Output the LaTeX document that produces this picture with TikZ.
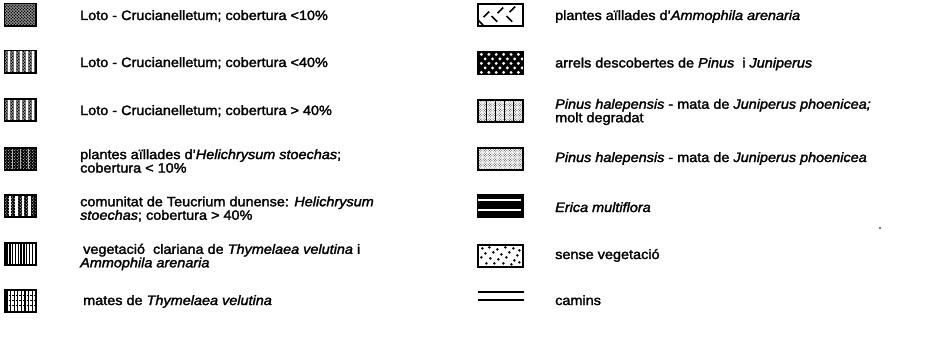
\documentclass[tikz,border=0pt]{standalone}
\usepackage{fontspec}
\setmainfont{Liberation Sans}[FakeStretch=1.07, FakeBold=2]
\usetikzlibrary{patterns}
\pgfdeclarepatternformonly{stip}{\pgfqpoint{-.1pt}{-.1pt}}{\pgfqpoint{3.1pt}{3.1pt}}{\pgfqpoint{3pt}{3pt}}{%
  \pgfpathcircle{\pgfqpoint{0.75pt}{0.75pt}}{0.95pt}%
  \pgfpathcircle{\pgfqpoint{2.25pt}{2.25pt}}{0.95pt}%
  \pgfusepath{fill}}
\pgfdeclarepatternformonly{stipsm}{\pgfqpoint{-.1pt}{-.1pt}}{\pgfqpoint{3.1pt}{3.1pt}}{\pgfqpoint{3pt}{3pt}}{%
  \pgfpathcircle{\pgfqpoint{0.75pt}{0.75pt}}{0.5pt}%
  \pgfpathcircle{\pgfqpoint{2.25pt}{2.25pt}}{0.5pt}%
  \pgfusepath{fill}}
\pgfdeclarepatternformonly{fdots}{\pgfqpoint{-.1pt}{-.1pt}}{\pgfqpoint{2.6pt}{2.6pt}}{\pgfqpoint{2.5pt}{2.5pt}}{%
  \pgfpathcircle{\pgfqpoint{0.6pt}{0.6pt}}{0.45pt}%
  \pgfpathcircle{\pgfqpoint{1.85pt}{1.85pt}}{0.45pt}%
  \pgfusepath{fill}}
% fill a swatch node: #1 node name, #2 frame width, #3 drawing code in local px coordinates (origin = top left)
\newcommand\swpat[3]{%
  \begin{scope}
    \clip (#1.south west) rectangle (#1.north east);
    \begin{scope}[shift={(#1.north west)}]#3\end{scope}
  \end{scope}
  \draw[line width=#2] (#1.south west) rectangle (#1.north east);}
\tikzset{
  swl/.style={draw, line width=1.2pt, inner sep=0pt, minimum width=31pt, minimum height=21pt, fill=white},
  swr/.style={draw, line width=1.2pt, inner sep=0pt, minimum width=45pt, minimum height=22pt, fill=white},
  lbl/.style={anchor=base west, inner sep=0pt, font=\fontsize{13.5}{13.5}\selectfont},
  lbl2/.style={anchor=west, inner sep=0pt, align=left, font=\fontsize{13.5}{13.5}\selectfont},
  road/.style={line width=2.2pt},
  stipbg/.style={fill=black!35}
}
\begin{document}
\begin{tikzpicture}[x=1pt, y=-1pt]
\useasboundingbox (0,0) rectangle (949,345);
% ---------- left column swatches ----------
\node[swl] (l1) at (20.5,15) {};
\node[swl] (l2) at (20.5,62) {};
\node[swl] (l3) at (20.5,110) {};
\node[swl] (l4) at (20.5,159) {};
\node[swl] (l5) at (20.5,206) {};
\node[swl] (l6) at (20.5,254) {};
\node[swl] (l7) at (20.5,301) {};
\swpat{l1}{1.2pt}{\fill[stipbg] (0,0) rectangle (31,21); \fill[pattern=stip] (0,0) rectangle (31,21);}
\swpat{l2}{1.2pt}{\fill[stipbg] (0,0) rectangle (31,21); \fill[pattern=stip] (0,0) rectangle (31,21);
   \foreach \i in {4,10,16,22,28} \fill[white] (\i,0) rectangle ++(1.6,21);}
\swpat{l3}{1.2pt}{\fill[stipbg] (0,0) rectangle (31,21); \fill[pattern=stip] (0,0) rectangle (31,21);
   \foreach \i in {3.5,9.5,15.5,21.5,27.5} \fill[white] (\i,0) rectangle ++(2.4,21);}
\swpat{l4}{1.2pt}{\fill[black] (0,0) rectangle (31,21); \fill[pattern=stipsm, pattern color=white] (0,0) rectangle (31,21);
   \foreach \i in {7.5,15.5,23.5} \fill[white!70!black] (\i,0) rectangle ++(0.9,21);}
\swpat{l5}{1.2pt}{\fill[black] (0,0) rectangle (31,21); \fill[pattern=stipsm, pattern color=white] (0,0) rectangle (31,21);
   \foreach \i in {4.2,10.7,17.2,23.7} \fill[white] (\i,0) rectangle ++(2.4,21);}
\swpat{l6}{1.2pt}{\foreach \i in {2.6,5.4,...,29} \draw[line width=1.4pt] (\i,0) -- (\i,21);}
\swpat{l7}{1.2pt}{\foreach \i in {2.5,6.1,...,29} \draw[line width=1.2pt] (\i,0) -- (\i,21);
   \foreach \j in {5.5,10.5,15.5} \draw[line width=1pt, dash pattern=on 1.6pt off 2pt] (0.5,\j) -- (31,\j);}
% ---------- left column texts ----------
\node[lbl] (t1) at (80,20) {Loto - Crucianelletum; cobertura <10\%};
\node[lbl] (t2) at (80,67) {Loto - Crucianelletum; cobertura <40\%};
\node[lbl] (t3) at (80,115) {Loto - Crucianelletum; cobertura > 40\%};
\node[lbl2] (t4) at (80,161) {plantes aïllades d'\textit{Helichrysum stoechas};\\cobertura < 10\%};
\node[lbl2] (t5) at (80,209) {comunitat de Teucrium dunense: \textit{Helichrysum}\\\textit{stoechas}; cobertura > 40\%};
\node[lbl2] (t6) at (80,257) {\hspace*{3pt}vegetació\ \ clariana de \textit{Thymelaea velutina} i\\\textit{Ammophila arenaria}};
\node[lbl] (t7) at (83,305) {mates de \textit{Thymelaea velutina}};
% ---------- right column swatches ----------
\node[swr] (r1) at (500.5,15) {};
\node[swr] (r2) at (500.5,63) {};
\node[swr] (r3) at (500.5,111) {};
\node[swr] (r4) at (500.5,159) {};
\node[swr] (r5) at (500.5,206) {};
\node[swr] (r6) at (500.5,256) {};
\swpat{r1}{1.2pt}{%
   \foreach \cx/\cy in {9/11,23/7,35/6} \draw[line width=1.6pt] (\cx-2.8,\cy+2.8) -- (\cx+2.8,\cy-2.8);
   \foreach \cx/\cy in {17/15.5,32/15.5,3/19} \draw[line width=1.6pt] (\cx-2.8,\cy-2.8) -- (\cx+2.8,\cy+2.8);}
\swpat{r2}{1.2pt}{\fill[black] (0,0) rectangle (45,22);
   \foreach \y/\off in {3/0,7.5/3.7,12/0,16.5/3.7,21/0} {
     \foreach \x in {4,11.4,18.8,26.2,33.6,41} {\fill[white] (\x+\off,\y) circle (1.6pt);}}}
\swpat{r3}{1.2pt}{\fill[pattern=fdots] (0,0) rectangle (45,22);
   \foreach \x in {9,18,27,36} \draw[line width=1.6pt] (\x,0) -- (\x,22);}
\swpat{r4}{0.9pt}{\fill[pattern=fdots] (0,0) rectangle (45,22);}
\swpat{r5}{1.2pt}{\fill[black] (0,0) rectangle (45,22);
   \fill[white] (1,4.5) rectangle (44,6.2); \fill[white] (1,14.5) rectangle (44,16.2);}
\swpat{r6}{1.2pt}{%
   \foreach \x/\y in {5/4,12/3,20/5,28/3,36/4,42/6,8/9,16/8,24/10,32/8,40/11,4/13,13/14,21/15,29/13,37/16,9/19,17/19,26/19,34/20,42/18}
     \fill (\x,\y) circle (1.4pt);}
\coordinate (c1a) at (478,292); \coordinate (c1b) at (524,292);
\coordinate (c2a) at (478,300); \coordinate (c2b) at (524,300);
\draw[road] (c1a) -- (c1b);
\draw[road] (c2a) -- (c2b);
% ---------- right column texts ----------
\node[lbl] (u1) at (555,20) {plantes aïllades d'\textit{Ammophila arenaria}};
\node[lbl] (u2) at (555,67.5) {arrels descobertes de \textit{Pinus}\ \ i \textit{Juniperus}};
\node[lbl2] (u3) at (555,112) {\textit{Pinus halepensis} - mata de \textit{Juniperus phoenicea;}\\molt degradat};
\node[lbl] (u4) at (555,162) {\textit{Pinus halepensis} - mata de \textit{Juniperus phoenicea}};
\node[lbl] (u5) at (555,212) {\textit{Erica multiflora}};
\node[lbl] (u6) at (555,259) {sense vegetació};
\node[lbl] (u7) at (555,305) {camins};
\fill (880,228) circle (0.9pt);
\end{tikzpicture}
\end{document}
